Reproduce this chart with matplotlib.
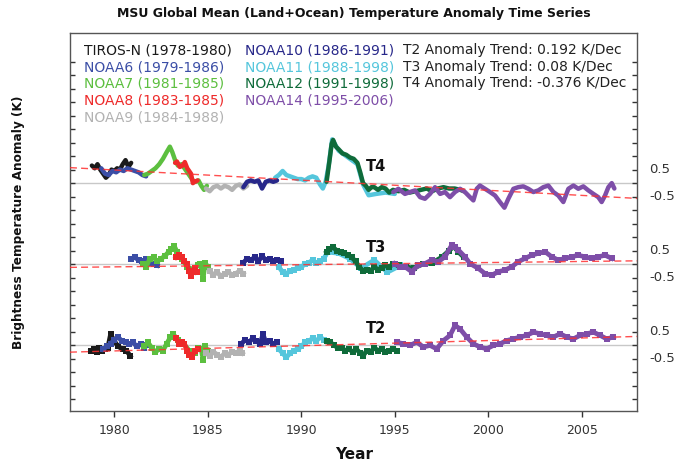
import numpy as np
import matplotlib
matplotlib.use("Agg")
import matplotlib.pyplot as plt
import matplotlib.transforms as mtransforms

plt.rcParams['font.family'] = ['DejaVu Sans']

# ---------------- data (anomaly in K, relative to each channel's zero line) ----------------
satellites = ["TIROS-N", "NOAA6", "NOAA7", "NOAA8", "NOAA9", "NOAA10", "NOAA11", "NOAA12", "NOAA14"]
sat_periods = ["(1978-1980)", "(1979-1986)", "(1981-1985)", "(1983-1985)", "(1984-1988)",
               "(1986-1991)", "(1988-1998)", "(1991-1998)", "(1995-2006)"]
sat_colors = ["#1a1a1a", "#3b4ea6", "#5cbf3f", "#ee2a2a", "#b2b2b2",
              "#28288a", "#55c6dc", "#0f6b3a", "#7e4ea8"]

channels = ["T4", "T3", "T2"]
channel_offsets = [3.0, 0.0, -3.0]
trend_per_decade = [-0.376, 0.08, 0.192]
trend_zero_year = [1992.9, 1992.7, 1991.2]
trend_texts = ["T2 Anomaly Trend: 0.192 K/Dec", "T3 Anomaly Trend: 0.08 K/Dec",
               "T4 Anomaly Trend: -0.376 K/Dec"]

# ---- T4 ----
t4_tiros_yr = [1978.8, 1978.95, 1979.1, 1979.25, 1979.4, 1979.55, 1979.7, 1979.85, 1980.0, 1980.15, 1980.3, 1980.45, 1980.6, 1980.75, 1980.9]
t4_tiros = [0.65, 0.55, 0.70, 0.50, 0.35, 0.20, 0.30, 0.50, 0.45, 0.55, 0.50, 0.70, 0.85, 0.60, 0.75]
t4_noaa6_yr = [1979.3, 1979.5, 1979.7, 1979.9, 1980.1, 1980.3, 1980.5, 1980.7, 1980.9, 1981.1, 1981.3, 1981.5, 1981.7]
t4_noaa6 = [0.55, 0.35, 0.30, 0.45, 0.40, 0.50, 0.45, 0.55, 0.50, 0.45, 0.40, 0.30, 0.25]
t4_noaa7_yr = [1981.6, 1981.8, 1982.0, 1982.2, 1982.4, 1982.6, 1982.8, 1982.97, 1983.1, 1983.25, 1983.4, 1983.6, 1983.8, 1984.0, 1984.2, 1984.35, 1984.5, 1984.65, 1984.8, 1984.95]
t4_noaa7 = [0.30, 0.35, 0.45, 0.55, 0.70, 0.90, 1.15, 1.35, 1.15, 0.85, 0.65, 0.70, 0.50, 0.30, 0.10, 0.05, 0.10, -0.10, -0.25, -0.10]
t4_noaa8_yr = [1983.25, 1983.35, 1983.5, 1983.65, 1983.77, 1983.9, 1984.0, 1984.1, 1984.2, 1984.3, 1984.45]
t4_noaa8 = [0.75, 0.80, 0.60, 0.65, 0.78, 0.55, 0.45, 0.35, 0.00, 0.05, 0.10]
t4_noaa9_yr = [1984.9, 1985.1, 1985.3, 1985.5, 1985.7, 1985.9, 1986.1, 1986.3, 1986.5, 1986.7, 1986.9, 1987.1]
t4_noaa9 = [-0.20, -0.30, -0.15, -0.10, -0.20, -0.10, -0.15, -0.25, -0.10, -0.05, -0.20, -0.10]
t4_noaa10_yr = [1986.9, 1987.1, 1987.3, 1987.5, 1987.7, 1987.9, 1988.1, 1988.3, 1988.5, 1988.7]
t4_noaa10 = [-0.15, 0.05, 0.10, 0.05, 0.10, -0.20, 0.05, 0.10, 0.05, 0.10]
t4_noaa11_yr = [1988.6, 1988.8, 1989.0, 1989.2, 1989.4, 1989.6, 1989.8, 1990.0, 1990.2, 1990.4, 1990.6, 1990.8, 1991.0, 1991.15, 1991.3,
                1991.45, 1991.65, 1992.0, 1992.5, 1993.0, 1993.3, 1993.6, 1994.0, 1994.5, 1995.0]
t4_noaa11 = [0.20, 0.30, 0.45, 0.30, 0.25, 0.20, 0.15, 0.15, 0.10, 0.20, 0.25, 0.20, -0.05, -0.20, 0.05,
             0.60, 1.62, 1.20, 0.95, 0.70, -0.05, -0.45, -0.40, -0.35, -0.40]
t4_noaa12_yr = [1991.35, 1991.5, 1991.62, 1991.7, 1991.85, 1992.0, 1992.2, 1992.4, 1992.6, 1992.8, 1993.0, 1993.15, 1993.3, 1993.45, 1993.6,
                1993.75, 1993.9, 1994.1, 1994.3, 1994.5, 1994.7, 1994.9, 1995.2, 1995.5, 1995.8, 1996.1, 1996.4, 1996.7, 1997.0,
                1997.3, 1997.6, 1997.9, 1998.2, 1998.5, 1998.7]
t4_noaa12 = [0.05, 0.80, 1.45, 1.60, 1.35, 1.25, 1.10, 1.05, 0.95, 0.90, 0.75, 0.40, 0.00, -0.10, -0.25,
             -0.15, -0.15, -0.25, -0.15, -0.20, -0.35, -0.25, -0.30, -0.25, -0.35, -0.30, -0.25, -0.20, -0.30,
             -0.20, -0.15, -0.20, -0.20, -0.25, -0.30]
t4_noaa14_yr = [1994.92, 1995.19, 1995.54, 1995.81, 1996.08, 1996.35, 1996.61, 1996.88, 1997.15, 1997.42, 1997.68, 1997.95,
                1998.22, 1998.49, 1998.75, 1999.02, 1999.2, 1999.38, 1999.55, 1999.82, 2000.09, 2000.36, 2000.62, 2000.86,
                2001.07, 2001.34, 2001.6, 2001.87, 2002.14, 2002.41, 2002.67, 2002.94, 2003.21, 2003.48, 2003.74, 2004.01,
                2004.28, 2004.55, 2004.81, 2005.08, 2005.35, 2005.62, 2005.88, 2006.06, 2006.24, 2006.42, 2006.6, 2006.74]
t4_noaa14 = [-0.33, -0.21, -0.40, -0.33, -0.27, -0.52, -0.58, -0.40, -0.15, -0.40, -0.33, -0.52,
             -0.33, -0.21, -0.33, -0.52, -0.64, -0.21, -0.09, -0.21, -0.33, -0.46, -0.70, -0.91,
             -0.58, -0.21, -0.15, -0.12, -0.21, -0.33, -0.27, -0.15, -0.09, -0.33, -0.46, -0.70,
             -0.21, -0.09, -0.21, -0.12, -0.27, -0.40, -0.52, -0.70, -0.46, -0.15, 0.00, -0.20]

# ---- T3 ----
t3_noaa6_yr = [1980.9, 1981.1, 1981.3, 1981.5, 1981.7, 1981.9, 1982.1, 1982.3]
t3_noaa6 = [0.20, 0.25, 0.15, 0.10, 0.18, 0.05, 0.00, -0.05]
t3_noaa7_yr = [1981.55, 1981.7, 1981.9, 1982.1, 1982.3, 1982.5, 1982.7, 1982.9, 1983.05, 1983.2, 1983.35, 1983.6, 1983.9, 1984.2, 1984.45, 1984.6, 1984.75, 1984.85, 1985.0]
t3_noaa7 = [0.00, -0.10, 0.20, 0.25, 0.10, 0.20, 0.30, 0.45, 0.55, 0.68, 0.45, 0.20, -0.10, -0.20, -0.05, 0.00, -0.55, 0.05, -0.10]
t3_noaa8_yr = [1983.3, 1983.45, 1983.6, 1983.75, 1983.9, 1984.0, 1984.1, 1984.2, 1984.3, 1984.4]
t3_noaa8 = [0.25, 0.35, 0.25, 0.10, 0.00, -0.25, -0.45, -0.30, -0.15, -0.30]
t3_noaa9_yr = [1985.1, 1985.3, 1985.5, 1985.7, 1985.9, 1986.1, 1986.3, 1986.5, 1986.7, 1986.9]
t3_noaa9 = [-0.25, -0.40, -0.30, -0.45, -0.35, -0.30, -0.40, -0.35, -0.25, -0.35]
t3_noaa10_yr = [1986.9, 1987.1, 1987.3, 1987.5, 1987.7, 1987.9, 1988.1, 1988.3, 1988.5, 1988.7, 1988.9]
t3_noaa10 = [0.05, 0.20, 0.15, 0.25, 0.10, 0.30, 0.15, 0.20, 0.10, 0.15, 0.10]
t3_noaa11_yr = [1988.8, 1989.0, 1989.2, 1989.4, 1989.6, 1989.8, 1990.0, 1990.2, 1990.4, 1990.6, 1990.8, 1991.0, 1991.2,
                1991.4, 1992.0, 1992.6, 1993.2, 1993.9, 1994.6, 1995.3]
t3_noaa11 = [-0.10, -0.30, -0.35, -0.25, -0.20, -0.15, -0.10, 0.00, 0.05, 0.15, 0.05, 0.10, 0.20,
             0.45, 0.40, 0.20, -0.15, 0.15, -0.30, -0.05]
t3_noaa12_yr = [1991.35, 1991.5, 1991.7, 1991.9, 1992.1, 1992.3, 1992.5, 1992.7, 1992.9, 1993.1, 1993.3, 1993.5, 1993.7, 1993.9,
                1994.1, 1994.3, 1994.5, 1994.7, 1994.9, 1995.2, 1995.6, 1996.0, 1996.5, 1997.0, 1997.5, 1997.9, 1998.15, 1998.4, 1998.7]
t3_noaa12 = [0.45, 0.55, 0.62, 0.50, 0.45, 0.40, 0.35, 0.25, 0.10, -0.10, -0.25, -0.20, -0.25, -0.10,
             -0.20, -0.15, -0.05, -0.10, 0.00, -0.05, -0.10, -0.15, 0.00, 0.05, 0.25, 0.50, 0.65, 0.45, 0.25]
t3_noaa14_yr = [1995.0, 1995.27, 1995.54, 1995.9, 1996.26, 1996.61, 1996.97, 1997.33, 1997.68, 1998.04, 1998.22, 1998.4,
                1998.75, 1999.02, 1999.47, 1999.82, 2000.18, 2000.54, 2000.89, 2001.25, 2001.6, 2001.96, 2002.32, 2002.67,
                2003.03, 2003.39, 2003.74, 2004.1, 2004.46, 2004.81, 2005.17, 2005.53, 2005.88, 2006.24, 2006.6]
t3_noaa14 = [0.02, -0.10, -0.10, -0.28, -0.04, 0.02, 0.15, 0.09, 0.27, 0.70, 0.64, 0.52,
             0.27, 0.02, -0.16, -0.35, -0.41, -0.28, -0.22, -0.10, 0.09, 0.21, 0.33, 0.40,
             0.46, 0.27, 0.15, 0.21, 0.27, 0.33, 0.27, 0.21, 0.27, 0.33, 0.21]

# ---- T2 ----
t2_tiros_yr = [1978.75, 1978.9, 1979.05, 1979.2, 1979.35, 1979.5, 1979.65, 1979.8, 1980.0, 1980.2, 1980.45, 1980.65, 1980.85]
t2_tiros = [-0.20, -0.15, -0.25, -0.10, -0.20, -0.15, -0.10, 0.40, 0.15, -0.05, -0.15, -0.20, -0.40]
t2_noaa6_yr = [1979.4, 1979.6, 1979.8, 1980.0, 1980.2, 1980.4, 1980.6, 1980.8, 1981.0, 1981.2, 1981.4, 1981.6, 1981.75]
t2_noaa6 = [-0.15, -0.05, 0.05, 0.20, 0.30, 0.15, 0.10, 0.05, 0.10, -0.05, 0.05, -0.10, 0.00]
t2_noaa7_yr = [1981.6, 1981.8, 1982.0, 1982.2, 1982.4, 1982.6, 1982.8, 1983.0, 1983.15, 1983.4, 1983.7, 1984.0, 1984.3, 1984.5, 1984.65, 1984.75, 1984.85, 1985.0]
t2_noaa7 = [-0.05, 0.10, -0.10, -0.25, -0.15, -0.20, 0.05, 0.30, 0.40, 0.20, 0.05, -0.20, -0.30, -0.10, -0.15, -0.55, -0.05, -0.20]
t2_noaa8_yr = [1983.3, 1983.45, 1983.6, 1983.75, 1983.9, 1984.0, 1984.15, 1984.3, 1984.45]
t2_noaa8 = [0.25, 0.05, 0.10, 0.05, -0.20, -0.35, -0.45, -0.20, -0.15]
t2_noaa9_yr = [1984.9, 1985.1, 1985.3, 1985.5, 1985.7, 1985.9, 1986.1, 1986.3, 1986.5, 1986.7, 1986.85]
t2_noaa9 = [-0.30, -0.40, -0.25, -0.35, -0.45, -0.30, -0.35, -0.25, -0.30, -0.20, -0.30]
t2_noaa10_yr = [1986.8, 1987.0, 1987.2, 1987.4, 1987.6, 1987.8, 1987.95, 1988.1, 1988.3, 1988.5, 1988.7]
t2_noaa10 = [0.05, 0.20, 0.10, 0.25, 0.15, 0.05, 0.40, 0.10, 0.15, 0.05, 0.10]
t2_noaa11_yr = [1988.8, 1989.0, 1989.2, 1989.4, 1989.6, 1989.8, 1990.0, 1990.2, 1990.4, 1990.6, 1990.8, 1991.0, 1991.2, 1991.35]
t2_noaa11 = [-0.15, -0.30, -0.45, -0.30, -0.20, -0.15, -0.05, 0.10, 0.15, 0.25, 0.15, 0.30, 0.20, 0.15]
t2_noaa12_yr = [1991.35, 1991.55, 1991.75, 1991.95, 1992.15, 1992.35, 1992.55, 1992.75, 1992.95, 1993.15, 1993.3, 1993.5,
                1993.7, 1993.9, 1994.1, 1994.3, 1994.5, 1994.7, 1994.9, 1995.1]
t2_noaa12 = [0.15, 0.10, 0.00, -0.10, -0.10, -0.20, -0.15, -0.25, -0.15, -0.30, -0.40, -0.20,
             -0.25, -0.10, -0.20, -0.15, -0.25, -0.20, -0.15, -0.20]
t2_noaa14_yr = [1995.1, 1995.46, 1995.81, 1996.17, 1996.53, 1996.88, 1997.24, 1997.6, 1997.95, 1998.22, 1998.49, 1998.84,
                1999.2, 1999.56, 1999.91, 2000.27, 2000.63, 2000.98, 2001.34, 2001.7, 2002.05, 2002.41, 2002.77, 2003.12,
                2003.48, 2003.84, 2004.19, 2004.55, 2004.9, 2005.26, 2005.62, 2005.98, 2006.33, 2006.69]
t2_noaa14 = [0.11, 0.05, -0.01, 0.11, -0.07, -0.01, -0.14, 0.17, 0.36, 0.73, 0.60, 0.30,
             0.05, -0.07, -0.14, -0.01, 0.05, 0.17, 0.23, 0.30, 0.36, 0.48, 0.42, 0.36,
             0.30, 0.42, 0.30, 0.23, 0.36, 0.42, 0.48, 0.36, 0.23, 0.30]

x_ticks = [1980, 1985, 1990, 1995, 2000, 2005]

# ---------------- build tables ----------------
series = {
    "T4": [("TIROS-N", t4_tiros_yr, t4_tiros), ("NOAA6", t4_noaa6_yr, t4_noaa6), ("NOAA7", t4_noaa7_yr, t4_noaa7),
           ("NOAA8", t4_noaa8_yr, t4_noaa8), ("NOAA9", t4_noaa9_yr, t4_noaa9), ("NOAA11", t4_noaa11_yr, t4_noaa11),
           ("NOAA10", t4_noaa10_yr, t4_noaa10), ("NOAA12", t4_noaa12_yr, t4_noaa12), ("NOAA14", t4_noaa14_yr, t4_noaa14)],
    "T3": [("NOAA6", t3_noaa6_yr, t3_noaa6), ("NOAA7", t3_noaa7_yr, t3_noaa7), ("NOAA8", t3_noaa8_yr, t3_noaa8),
           ("NOAA9", t3_noaa9_yr, t3_noaa9), ("NOAA10", t3_noaa10_yr, t3_noaa10), ("NOAA11", t3_noaa11_yr, t3_noaa11),
           ("NOAA12", t3_noaa12_yr, t3_noaa12), ("NOAA14", t3_noaa14_yr, t3_noaa14)],
    "T2": [("TIROS-N", t2_tiros_yr, t2_tiros), ("NOAA6", t2_noaa6_yr, t2_noaa6), ("NOAA7", t2_noaa7_yr, t2_noaa7),
           ("NOAA8", t2_noaa8_yr, t2_noaa8), ("NOAA9", t2_noaa9_yr, t2_noaa9), ("NOAA10", t2_noaa10_yr, t2_noaa10),
           ("NOAA11", t2_noaa11_yr, t2_noaa11), ("NOAA12", t2_noaa12_yr, t2_noaa12), ("NOAA14", t2_noaa14_yr, t2_noaa14)],
}
color_of = dict(zip(satellites, sat_colors))

W, H = 679, 465
fig = plt.figure(figsize=(W / 100, H / 100), dpi=100)
ax = fig.add_axes([70 / W, 1 - 411 / H, 567 / W, 378 / H])
xlim = (1977.63, 2007.95)
ax.set_xlim(*xlim)
ax.set_ylim(-5.44, 8.56)

xs = np.array(xlim)
for ch, off, tr, z0 in zip(channels, channel_offsets, trend_per_decade, trend_zero_year):
    ax.axhline(off, color="#c8c8c8", lw=1.0, zorder=1)
    for k, (sat, yr, val) in enumerate(series[ch]):
        y = np.asarray(val) + off
        if ch == "T4":
            ax.plot(yr, y, color=color_of[sat], lw=3.2, solid_capstyle="round",
                    solid_joinstyle="round", zorder=3 + k * 0.1)
        else:
            ax.plot(yr, y, color=color_of[sat], lw=3.4, marker="s", ms=4.6, mew=0,
                    solid_joinstyle="round", zorder=3 + k * 0.1)
    ax.plot(xs, off + tr / 10.0 * (xs - z0), color="#ff3030", lw=1.0, ls=(0, (5, 3)),
            alpha=0.85, zorder=6)
    ax.text(1993.45, off + 0.6, ch, fontsize=10.5, fontweight="bold", ha="left", va="center",
            color="#111111", zorder=7)
    tr_ = mtransforms.blended_transform_factory(ax.transAxes, ax.transData)
    ax.text(1.021, off + 0.5, "0.5", transform=tr_, fontsize=9.5, ha="left", va="center",
            color="#333333", clip_on=False)
    ax.text(1.021, off - 0.5, "-0.5", transform=tr_, fontsize=9.5, ha="left", va="center",
            color="#333333", clip_on=False)

# legend-like text block inside the axes
col_x = [(84 - 70) / 567, (245 - 70) / 567, (403 - 70) / 567]
row_y = [(411 - py) / 378 for py in (50, 67, 83, 100, 117)]
for i, (sat, per, col) in enumerate(zip(satellites, sat_periods, sat_colors)):
    c, r = (0, i) if i < 5 else (1, i - 5)
    ax.text(col_x[c], row_y[r], f"{sat} {per}", transform=ax.transAxes, fontsize=10.0,
            color=col, ha="left", va="center")
for r, t in enumerate(trend_texts):
    ax.text(col_x[2], row_y[r], t, transform=ax.transAxes, fontsize=10.0, color="#222222",
            ha="left", va="center")

ax.set_xticks(x_ticks)
ax.set_xticklabels([str(t) for t in x_ticks])
ax.tick_params(axis="x", direction="out", length=4, width=1, labelsize=9, pad=5,
               colors="#333333", top=False)
ax.set_yticks(np.arange(-5.0, 7.51, 0.5))
ax.tick_params(axis="y", direction="in", length=3.5, width=1, left=True, right=True,
               labelleft=False, labelright=False, colors="#333333")
for s in ax.spines.values():
    s.set_color("#555555")
    s.set_linewidth(1.0)

fig.text(354 / W, 1 - 13 / H, "MSU Global Mean (Land+Ocean) Temperature Anomaly Time Series",
         ha="center", va="center", fontsize=9, fontweight="bold", color="#111111")
fig.text(354 / W, 1 - 454 / H, "Year", ha="center", va="center", fontsize=11,
         fontweight="bold", color="#111111")
fig.text(19 / W, 1 - 222 / H, "Brightness Temperature Anomaly (K)", ha="center", va="center",
         rotation=90, fontsize=8.7, fontweight="bold", color="#111111")

fig.savefig("out.png", dpi=100)
